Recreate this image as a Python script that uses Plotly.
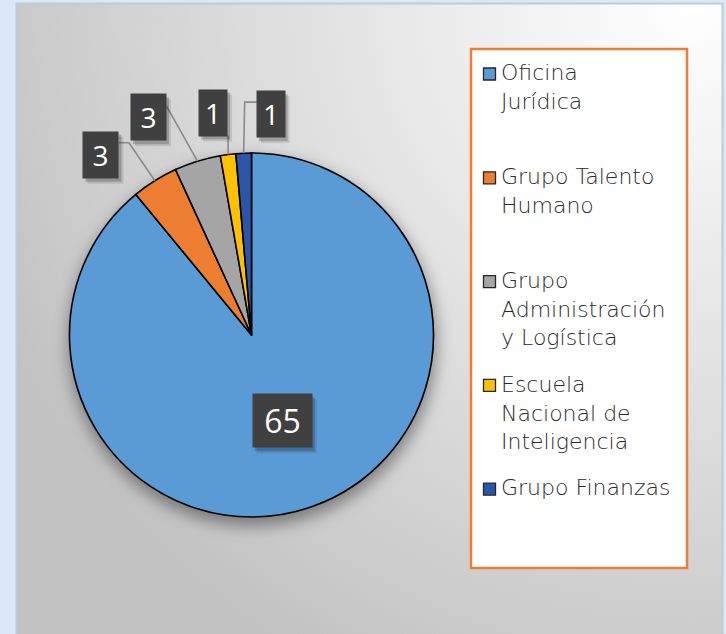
import base64
import math
import plotly.graph_objects as go

# ---------------- data ----------------
CATEGORIES = ["Oficina Jurídica", "Grupo Talento Humano", "Grupo Administración y Logística",
              "Escuela Nacional de Inteligencia", "Grupo Finanzas"]
LEGEND_LABELS = ["Oficina<br>Jurídica", "Grupo Talento<br>Humano",
                 "Grupo<br>Administración<br>y Logística",
                 "Escuela<br>Nacional de<br>Inteligencia", "Grupo Finanzas"]
VALUES = [65, 3, 3, 1, 1]

# ---------------- styles / layout ----------------
COLORS = ["#5B9BD5", "#ED7D31", "#A5A5A5", "#FFC000", "#2B56A8"]
W, H = 726, 634
CX, CY, R = 251.5, 335.0, 182.0
# label placement relative to slice edge anchor (pixels): box centre offset, box size, font size, leader path
LABEL_STYLE = [
    dict(inside=True, w=59, h=53, fs=32),
    dict(dx=-54, dy=-26, w=35, h=46, fs=28, leader=[(0, 0), (-26, -38), (-36, -38)]),
    dict(dx=-49, dy=-44, w=35, h=46, fs=28, leader=[(0, 0), (-31, -55)]),
    dict(dx=-15, dy=-42, w=28, h=46, fs=28, leader=[(0, 0), (0, -19)]),
    dict(dx=27, dy=-39, w=28, h=46, fs=28, leader=[(0, 0), (1, -51), (13, -51)]),
]
FONT = "Open Sans"
LEG_FONT = "DejaVu Sans"
TEXT_COL = "#2a2a2a"


def px(x):
    return x / W


def py(y):
    return 1 - y / H


# ---------------- background (svg) ----------------
svg = f'''<svg xmlns="http://www.w3.org/2000/svg" width="{W}" height="{H}" viewBox="0 0 {W} {H}">
<defs>
<radialGradient id="g" gradientUnits="userSpaceOnUse" cx="{W*0.95}" cy="0" r="{W*1.05}">
<stop offset="0" stop-color="#ffffff"/>
<stop offset="0.55" stop-color="#dedede"/>
<stop offset="1" stop-color="#c2c2c2"/>
</radialGradient>
<filter id="b" x="-30%" y="-30%" width="160%" height="160%"><feGaussianBlur stdDeviation="8"/></filter>
</defs>
<rect x="0" y="0" width="{W}" height="{H}" fill="#dbe8f9"/>
<rect x="16.5" y="3.5" width="706" height="660" fill="url(#g)" stroke="#c2cad6" stroke-width="2"/>
<circle cx="{CX+1}" cy="{CY+7}" r="{R+2}" fill="#000" fill-opacity="0.4" filter="url(#b)"/>
</svg>'''
bg_src = "data:image/svg+xml;base64," + base64.b64encode(svg.encode()).decode()

fig = go.Figure()
fig.add_trace(go.Pie(
    labels=CATEGORIES, values=VALUES, sort=False, direction="clockwise", rotation=0,
    marker=dict(colors=COLORS, line=dict(color="#000000", width=1.6)),
    textinfo="none", hoverinfo="label+value", showlegend=False,
    domain=dict(x=[px(CX - R), px(CX + R)], y=[py(CY + R), py(CY - R)]),
))

shapes = []
annotations = []

# ---------------- data labels ----------------
total = sum(VALUES)
cum = 0.0
for i, v in enumerate(VALUES):
    mid = (cum + v / 2) / total * 2 * math.pi
    cum += v
    st = LABEL_STYLE[i]
    if st.get("inside"):
        bx = CX + math.sin(mid) * R * 0.5
        by = CY - math.cos(mid) * R * 0.5
    else:
        ax = CX + math.sin(mid) * R
        ay = CY - math.cos(mid) * R
        bx, by = ax + st["dx"], ay + st["dy"]
        pts = [(ax + p[0], ay + p[1]) for p in st["leader"]]
        path = "M " + " L ".join(f"{px(x):.5f},{py(y):.5f}" for x, y in pts)
        shapes.append(dict(type="path", path=path, xref="paper", yref="paper",
                           line=dict(color="#8a8a8a", width=1.6), layer="above"))
    # soft shadow (two layers)
    for off, alpha in ((5, 0.10), (3, 0.20)):
        shapes.append(dict(type="rect", xref="paper", yref="paper",
                           x0=px(bx - st["w"] / 2 + off - 1), x1=px(bx + st["w"] / 2 + off),
                           y0=py(by + st["h"] / 2 + off + 1), y1=py(by - st["h"] / 2 + off),
                           fillcolor=f"rgba(0,0,0,{alpha})", line=dict(width=0), layer="above"))
    annotations.append(dict(x=px(bx), y=py(by), xref="paper", yref="paper",
                            xanchor="center", yanchor="middle",
                            text=str(v), showarrow=False, width=st["w"], height=st["h"],
                            bgcolor="#404040", borderpad=0, align="center", valign="middle",
                            font=dict(family=FONT, size=st["fs"], color="#ffffff")))

# ---------------- legend (manual) ----------------
LX0, LY0, LX1, LY1 = 471, 49, 687, 568
shapes.append(dict(type="rect", xref="paper", yref="paper", x0=px(LX0), x1=px(LX1),
                   y0=py(LY1), y1=py(LY0), fillcolor="#ffffff",
                   line=dict(color="#ED7D31", width=2.5), layer="above"))
PITCH = 103.8
LEG_FS = 22
for i, lab in enumerate(LEGEND_LABELS):
    cy = 73.5 + i * PITCH
    shapes.append(dict(type="rect", xref="paper", yref="paper", x0=px(483.5), x1=px(495.5),
                       y0=py(cy + 6.5), y1=py(cy - 5.5), fillcolor=COLORS[i],
                       line=dict(color="#262626", width=1.3), layer="above"))
    annotations.append(dict(x=px(500), y=py(cy - LEG_FS * 0.65), xref="paper", yref="paper",
                            xanchor="left", yanchor="top", align="left", showarrow=False,
                            text=lab, borderpad=0,
                            font=dict(family=LEG_FONT, size=LEG_FS, color=TEXT_COL, weight=200)))

fig.update_layout(
    width=W, height=H, margin=dict(l=0, r=0, t=0, b=0),
    paper_bgcolor="#dbe8f9", plot_bgcolor="rgba(0,0,0,0)",
    images=[dict(source=bg_src, xref="paper", yref="paper", x=0, y=1, sizex=1, sizey=1,
                 xanchor="left", yanchor="top", sizing="stretch", layer="below")],
    shapes=shapes, annotations=annotations, showlegend=False,
)
fig.write_html("out.html", config={"displayModeBar": False},
               post_script="document.body.style.margin='0';document.body.style.overflow='hidden';")
